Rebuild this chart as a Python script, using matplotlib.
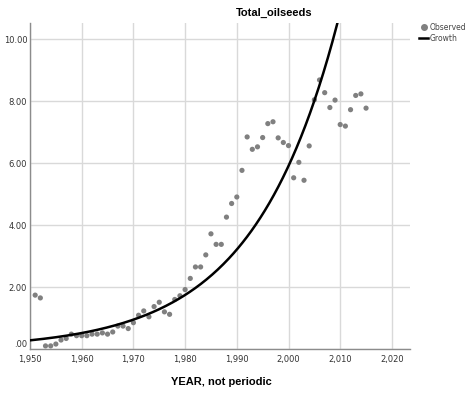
import numpy as np
import matplotlib
matplotlib.use('Agg')
import matplotlib.pyplot as plt
from matplotlib.ticker import FuncFormatter
from matplotlib.lines import Line2D

years = list(range(1951, 2016))
observed = [1.74, 1.65, 0.10, 0.10, 0.16, 0.29, 0.34, 0.48, 0.43, 0.43,
            0.43, 0.48, 0.48, 0.52, 0.48, 0.55, 0.74, 0.74, 0.66, 0.85,
            1.09, 1.23, 1.04, 1.37, 1.51, 1.20, 1.12, 1.60, 1.72, 1.92,
            2.28, 2.65, 2.65, 3.04, 3.72, 3.38, 3.38, 4.26, 4.70, 4.91,
            5.77, 6.85, 6.45, 6.53, 6.83, 7.28, 7.34, 6.82, 6.67, 6.57,
            5.53, 6.03, 5.45, 6.56, 8.05, 8.69, 8.28, 7.80, 8.04, 7.25,
            7.20, 7.73, 8.19, 8.24, 7.78]

# Growth model: ln(y) = b0 + b1 * (year - 1950)
b0 = np.log(0.28)
b1 = 0.061

x_ticks = [1950, 1960, 1970, 1980, 1990, 2000, 2010, 2020]
y_ticks = [0, 2, 4, 6, 8, 10]

narrow = ['Liberation Sans Narrow', 'DejaVu Sans']
plt.rcParams['font.family'] = ['Liberation Sans', 'DejaVu Sans']

fig = plt.figure(figsize=(4.71, 3.93), dpi=100)
ax = fig.add_axes([30 / 471, 44 / 393, 380 / 471, 326 / 393])

ax.grid(True, color='#d9d9d9', linewidth=1.0)
ax.set_axisbelow(True)

ax.scatter(years, observed, s=14, color='#808080', edgecolors='none', zorder=3)

t = np.linspace(1950, 2015, 300)
ax.plot(t, np.exp(b0 + b1 * (t - 1950)), color='black', linewidth=1.8, zorder=4)

ax.set_xlim(1950, 2023.5)
ax.set_ylim(0, 10.53)
ax.set_xticks(x_ticks)
ax.set_yticks(y_ticks)
ax.xaxis.set_major_formatter(FuncFormatter(lambda v, p: f'{int(v):,}'))
ax.yaxis.set_major_formatter(FuncFormatter(lambda v, p: '.00' if v == 0 else f'{v:.2f}'))
ax.tick_params(length=0, labelsize=6, colors='#333333')
ax.tick_params(axis='x', pad=4)
ax.tick_params(axis='y', pad=2)
for lab in ax.get_xticklabels() + ax.get_yticklabels():
    lab.set_family(narrow)
ax.get_yticklabels()[0].set_va('bottom')

for s in ['top', 'right']:
    ax.spines[s].set_visible(False)
for s in ['left', 'bottom']:
    ax.spines[s].set_color('#8c8c8c')
    ax.spines[s].set_linewidth(1.0)

fig.text(274 / 471, 1 - 13 / 393, 'Total_oilseeds', ha='center', va='center',
         fontsize=8, fontweight='bold')
fig.text(221 / 471, 1 - 382 / 393, 'YEAR, not periodic', ha='center', va='center',
         fontsize=8, fontweight='bold')

handles = [Line2D([], [], marker='o', linestyle='none', color='#808080', markersize=4),
           Line2D([], [], color='black', linewidth=1.8)]
leg = fig.legend(handles, ['Observed', 'Growth'], loc='upper left',
                 bbox_to_anchor=(419 / 471, 1 - 23 / 393), frameon=False,
                 prop={'family': narrow, 'size': 5.5}, handlelength=1.2,
                 handletextpad=0.2, labelspacing=0.25, borderaxespad=0, borderpad=0)
for txt in leg.get_texts():
    txt.set_color('#444444')

fig.savefig('out.png', dpi=100)
